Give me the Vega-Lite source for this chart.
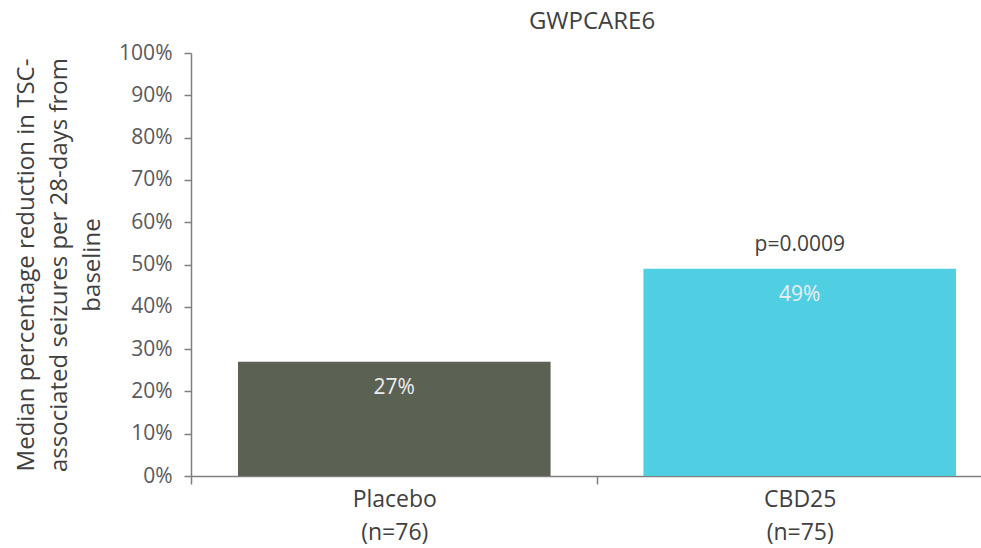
{
  "$schema": "https://vega.github.io/schema/vega-lite/v6.json",
  "autosize": {"type": "none"},
  "width": 790,
  "height": 423,
  "padding": {"left": 191, "top": 53, "right": 0, "bottom": 72},
  "background": "white",
  "title": {
    "text": "GWPCARE6",
    "fontSize": 24,
    "fontWeight": "normal",
    "color": "#404040",
    "font": "Open Sans",
    "offset": 8,
    "anchor": "middle",
    "frame": "group",
    "dx": 6
  },
  "config": {
    "view": {"stroke": null},
    "font": "Open Sans"
  },
  "data": {
    "values": [
      {"group": "Placebo|(n=76)", "reduction": 27, "label": "27%", "p": ""},
      {"group": "CBD25|(n=75)", "reduction": 49, "label": "49%", "p": "p=0.0009"}
    ]
  },
  "encoding": {
    "x": {
      "field": "group",
      "type": "nominal",
      "sort": null,
      "scale": {"paddingInner": 0.229, "paddingOuter": 0.0887, "align": 0.653},
      "axis": {
        "title": null,
        "labelExpr": "split(datum.label, '|')",
        "labelAngle": 0,
        "labelFontSize": 23,
        "labelLineHeight": 33,
        "labelColor": "#404040",
        "labelPadding": 4,
        "tickSize": 8,
        "bandPosition": 0,
        "tickOffset": -46.7,
        "labelOffset": 46.7,
        "domainColor": "#7f7f7f",
        "tickColor": "#7f7f7f",
        "domainWidth": 1.5,
        "tickWidth": 1.5,
        "grid": false
      }
    },
    "y": {
      "field": "reduction",
      "type": "quantitative",
      "scale": {"domain": [0, 100], "nice": false},
      "axis": {
        "values": [0, 10, 20, 30, 40, 50, 60, 70, 80, 90, 100],
        "labelExpr": "datum.value + '%'",
        "labelFontSize": 21,
        "labelColor": "#595959",
        "labelPadding": 12,
        "tickSize": 7,
        "domainColor": "#7f7f7f",
        "tickColor": "#7f7f7f",
        "domainWidth": 1.5,
        "tickWidth": 1.5,
        "grid": false,
        "title": ["Median percentage reduction in TSC-", "associated seizures per 28-days from", "baseline"],
        "titleFontSize": 24,
        "titleFontWeight": "normal",
        "titleLineHeight": 33,
        "titleColor": "#404040",
        "titlePadding": 14
      }
    }
  },
  "layer": [
    {
      "mark": {"type": "bar"},
      "encoding": {
        "color": {
          "field": "group",
          "type": "nominal",
          "scale": {"domain": ["Placebo|(n=76)", "CBD25|(n=75)"], "range": ["#5b6254", "#50cfe2"]},
          "legend": null
        }
      }
    },
    {
      "mark": {"type": "text", "baseline": "alphabetic", "dy": 32, "fontSize": 21, "color": "#eeeeee"},
      "encoding": {"text": {"field": "label"}}
    },
    {
      "mark": {"type": "text", "baseline": "alphabetic", "dy": -18, "fontSize": 21, "color": "#404040"},
      "encoding": {"text": {"field": "p"}}
    }
  ]
}
